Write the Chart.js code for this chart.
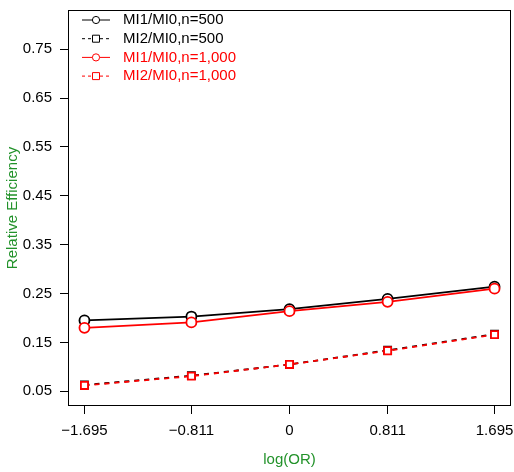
<!DOCTYPE html>
<html>
<head>
<meta charset="utf-8">
<script src="https://cdn.jsdelivr.net/npm/chart.js@4"></script>
<style>
html, body { margin:0; padding:0; background:#fff; }
#wrap { width:514px; height:472px; }
</style>
</head>
<body>
<div id="wrap"><canvas id="re"></canvas></div>
<script>
// log odds ratio values on x axis
const logOR = [-1.695, -0.811, 0, 0.811, 1.695];
const xTickLabels = ["\u22121.695", "\u22120.811", "0", "0.811", "1.695"];
const yTicks = [0.05, 0.15, 0.25, 0.35, 0.45, 0.55, 0.65, 0.75];

const mi1n500 = [0.195, 0.203, 0.218, 0.239, 0.264];
const mi2n500 = [0.063, 0.082, 0.105, 0.134, 0.167];
const mi1n1000 = [0.180, 0.191, 0.214, 0.233, 0.260];
const mi2n1000 = [0.062, 0.081, 0.105, 0.133, 0.166];

const seriesNames = ["MI1/MI0,n=500", "MI2/MI0,n=500", "MI1/MI0,n=1,000", "MI2/MI0,n=1,000"];

const font = "Liberation Sans, Arial, sans-serif";
const green = "#22922a";

function pts(ys){
    return logOR.map((x, i) => ({x:x, y:ys[i]}));
}

function series(label, ys, color, dashed, order){
    return {
        label:label,
        data:pts(ys),
        borderColor:color,
        backgroundColor:"#fff",
        borderWidth:1.8,
        borderDash:dashed ? [5,5] : [],
        pointStyle:dashed ? "rect" : "circle",
        pointRadius:5,
        pointBorderWidth:1.8,
        pointBackgroundColor:"#fff",
        pointBorderColor:color,
        tension:0,
        order:order
    };
}

// no extra padding from tick labels
function noPad(s){
    s.paddingTop = 0;
    s.paddingBottom = 0;
    s.paddingLeft = 0;
    s.paddingRight = 0;
}

// box around plot + legend inside it
const boxLegend = {
    id:"boxLegend",
    afterDraw(chart){
        const c = chart.ctx, a = chart.chartArea;
        c.save();
        c.strokeStyle = "#000";
        c.lineWidth = 1;
        c.strokeRect(a.left + 0.5, a.top + 0.5, a.right - a.left - 1, a.bottom - a.top - 1);

        const rows = [
            {color:"#000", dash:[], shape:"circle"},
            {color:"#000", dash:[3,3], shape:"rect"},
            {color:"#f00", dash:[], shape:"circle"},
            {color:"#f00", dash:[3,3], shape:"rect"}
        ];
        c.font = "15px " + font;
        c.textBaseline = "middle";
        rows.forEach((r, i) => {
            const y = a.top + 10 + i * 18.7;
            const x0 = a.left + 14;
            c.strokeStyle = r.color;
            c.lineWidth = 1;
            c.setLineDash(r.dash);
            c.beginPath();
            c.moveTo(x0, y);
            c.lineTo(x0 + 28, y);
            c.stroke();
            c.setLineDash([]);
            c.fillStyle = "#fff";
            c.beginPath();
            if (r.shape === "circle") {
                c.arc(x0 + 14, y, 3.6, 0, Math.PI * 2);
            } else {
                c.rect(x0 + 10.5, y - 3.5, 7, 7);
            }
            c.fill();
            c.stroke();
            c.fillStyle = r.color;
            c.fillText(seriesNames[i], x0 + 41, y);
        });
        c.restore();
    }
};

new Chart(document.getElementById("re").getContext("2d"), {
    type:"line",
    data:{
        datasets:[
            series(seriesNames[0], mi1n500, "#000", false, 3),
            series(seriesNames[1], mi2n500, "#000", true, 2),
            series(seriesNames[2], mi1n1000, "#f00", false, 1),
            series(seriesNames[3], mi2n1000, "#f00", true, 0)
        ]
    },
    options:{
        responsive:true,
        maintainAspectRatio:false,
        animation:false,
        layout:{
            autoPadding:false,
            padding:{top:10, right:3, left:0, bottom:0}
        },
        plugins:{
            legend:{display:false},
            tooltip:{enabled:false}
        },
        scales:{
            x:{
                type:"linear",
                min:-1.831,
                max:1.831,
                afterFit(s){ s.height = 66; noPad(s); },
                afterBuildTicks(s){ s.ticks = logOR.map(v => ({value:v})); },
                border:{display:false},
                grid:{
                    drawOnChartArea:false,
                    drawTicks:true,
                    tickLength:8,
                    color:"#000"
                },
                ticks:{
                    color:"#000",
                    font:{family:font, size:15},
                    padding:8,
                    maxRotation:0,
                    autoSkip:false,
                    callback:(v, i) => xTickLabels[i]
                },
                title:{
                    display:true,
                    text:"log(OR)",
                    color:green,
                    font:{family:font, size:15},
                    padding:{top:0, bottom:3}
                }
            },
            y:{
                min:0.02,
                max:0.83,
                afterFit(s){ s.width = 68; noPad(s); },
                afterBuildTicks(s){ s.ticks = yTicks.map(v => ({value:v})); },
                border:{display:false},
                grid:{
                    drawOnChartArea:false,
                    drawTicks:true,
                    tickLength:8,
                    color:"#000"
                },
                ticks:{
                    color:"#000",
                    font:{family:font, size:15},
                    padding:8,
                    autoSkip:false,
                    callback:v => v.toFixed(2)
                },
                title:{
                    display:true,
                    text:"Relative Efficiency",
                    color:green,
                    font:{family:font, size:15},
                    padding:{top:4, bottom:0}
                }
            }
        }
    },
    plugins:[boxLegend]
});
</script>
</body>
</html>
